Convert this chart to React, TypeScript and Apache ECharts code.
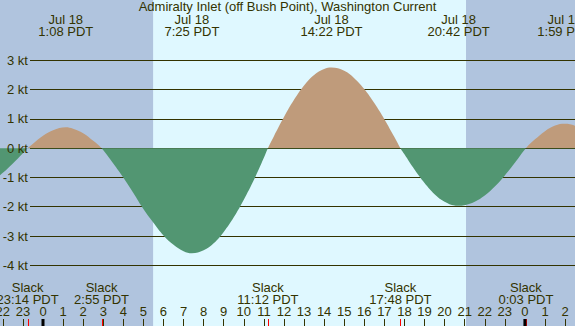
import React, { useEffect, useRef } from 'react';
import * as echarts from 'echarts';

// ---------- data ----------
const TITLE = 'Admiralty Inlet (off Bush Point), Washington Current';
const UNIT = 'kt';

// hours relative to midnight starting Jul 18 (negative = Jul 17, >24 = Jul 19)
const curveHours = [
  -3, -2.5, -2, -1.5, -1, -0.767, -0.5, 0, 0.5, 1.133, 1.5, 2, 2.5, 2.917,
  3.5, 4, 4.5, 5, 5.5, 6, 6.5, 7, 7.417, 8, 8.5, 9, 9.5, 10, 10.5, 11, 11.2,
  11.5, 12, 12.5, 13, 13.5, 14, 14.367, 15, 15.5, 16, 16.5, 17, 17.5, 17.8,
  18, 18.5, 19, 19.5, 20, 20.5, 20.7, 21, 21.5, 22, 22.5, 23, 23.5, 24.05,
  24.5, 25, 25.5, 25.983, 26.5, 27,
];
const curveKnots = [
  -1.29, -1.1, -0.84, -0.52, -0.17, 0, 0.15, 0.42, 0.61, 0.71, 0.66, 0.51, 0.25, 0,
  -0.52, -1.0, -1.53, -2.08, -2.55, -2.98, -3.3, -3.52, -3.59, -3.49, -3.25, -2.86, -2.36, -1.76, -1.09, -0.33, 0,
  0.41, 1.06, 1.65, 2.14, 2.5, 2.7, 2.75, 2.64, 2.39, 2.02, 1.54, 0.99, 0.38, 0,
  -0.21, -0.73, -1.19, -1.57, -1.83, -1.96, -1.97, -1.95, -1.83, -1.62, -1.31, -0.93, -0.5, 0,
  0.3, 0.58, 0.77, 0.83, 0.76, 0.58,
];

const peakDates = ['Jul 18', 'Jul 18', 'Jul 18', 'Jul 18', 'Jul 19'];
const peakTimes = ['1:08', '7:25', '14:22', '20:42', '1:59'];
const peakDayOffsets = [0, 0, 0, 0, 1];

const slackTimes = ['23:14', '2:55', '11:12', '17:48', '0:03'];
const slackDayOffsets = [-1, 0, 0, 0, 1];

const sunrise = '5:29';
const sunset = '21:04';
const midnights = [0, 24];

const hourMin = -3;
const hourMax = 27;
const ktMin = -4;
const ktMax = 3;

// ---------- style ----------
const W = 575;
const H = 326;
const FONT = '"Liberation Sans", Arial, sans-serif';
const FS = 13;
const INK = '#333300';
const NIGHT = '#b0c4de';
const DAY = '#dff8ff';
const FLOOD = '#bf9b7b';
const EBB = '#529672';

const toHours = (t: string, dayOffset = 0) => {
  const [hh, mm] = t.split(':').map(Number);
  return dayOffset * 24 + hh + mm / 60;
};

export default function App() {
  const ref = useRef<HTMLDivElement>(null);
  useEffect(() => {
    document.body.style.margin = '0';
    const chart = echarts.init(ref.current!, null, { renderer: 'svg', width: W, height: H });

    const peakHours = peakTimes.map((t, i) => toHours(t, peakDayOffsets[i]));
    const slackHours = slackTimes.map((t, i) => toHours(t, slackDayOffsets[i]));

    const gridLeft = -17.24;
    const gridRight = -10.16;
    const plotTop = 60.3;
    const plotBottom = 60.7;
    const tickLen = 7;

    const textEl = (x: number, y: number, text: string) => ({
      type: 'text',
      x,
      y,
      style: {
        text,
        fill: INK,
        fontSize: FS,
        fontFamily: FONT,
        align: 'center',
        verticalAlign: 'middle',
        lineHeight: 12,
      },
    });

    const kAxisBase = {
      type: 'value',
      gridIndex: 1,
      position: 'left',
      min: ktMin,
      max: ktMax,
      interval: 1,
      axisLine: { show: false, onZero: false },
      axisTick: { show: false },
    };

    chart.setOption({
      animation: false,
      backgroundColor: NIGHT,
      title: {
        text: TITLE,
        left: 'center',
        top: 0,
        padding: 0,
        textStyle: { fontSize: FS, lineHeight: 13, fontWeight: 'normal', color: INK, fontFamily: FONT },
      },
      grid: [
        { left: gridLeft, right: gridRight, top: plotTop, bottom: plotBottom, outerBoundsMode: 'none' },
        { left: 30, right: 0, top: plotTop, bottom: plotBottom, outerBoundsMode: 'none' },
      ],
      xAxis: [
        {
          type: 'value',
          gridIndex: 0,
          min: hourMin,
          max: hourMax,
          interval: 1,
          position: 'bottom',
          offset: plotBottom,
          z: 4,
          axisLine: { show: false, onZero: false },
          splitLine: { show: false },
          axisTick: { show: true, inside: true, length: tickLen, lineStyle: { color: INK, width: 1 } },
          axisLabel: {
            show: true,
            inside: true,
            margin: 8,
            color: INK,
            fontSize: FS,
            fontFamily: FONT,
            formatter: (v: number) => String(((v % 24) + 24) % 24),
          },
        },
        {
          type: 'value',
          gridIndex: 1,
          min: hourMin,
          max: hourMax,
          show: false,
          axisLine: { onZero: false },
          splitLine: { show: false },
        },
      ],
      yAxis: [
        { type: 'value', gridIndex: 0, min: ktMin, max: ktMax, show: false, splitLine: { show: false } },
        {
          ...kAxisBase,
          z: 2,
          axisLabel: { show: false },
          splitLine: { show: true, lineStyle: { color: INK, width: 1 } },
        },
        {
          ...kAxisBase,
          z: 7,
          splitLine: { show: false },
          axisLabel: {
            margin: 2,
            color: INK,
            fontSize: FS,
            fontFamily: FONT,
            formatter: (v: number) => `${v} ${UNIT}`,
          },
        },
      ],
      visualMap: {
        type: 'piecewise',
        show: false,
        seriesIndex: 1,
        dimension: 1,
        pieces: [
          { gte: -20, lt: 0, color: EBB },
          { gte: 0, lte: 20, color: FLOOD },
        ],
      },
      series: [
        {
          type: 'custom',
          name: 'daylight',
          xAxisIndex: 0,
          yAxisIndex: 0,
          z: 1,
          silent: true,
          clip: false,
          data: [[toHours(sunrise), toHours(sunset)]],
          encode: { x: [0, 1] },
          renderItem: (_p: any, api: any) => {
            const x1 = api.coord([api.value(0), 0])[0];
            const x2 = api.coord([api.value(1), 0])[0];
            return {
              type: 'rect',
              shape: { x: x1, y: 0, width: x2 - x1, height: api.getHeight() },
              style: { fill: DAY },
            };
          },
        },
        {
          type: 'line',
          name: 'current',
          xAxisIndex: 0,
          yAxisIndex: 0,
          z: 3,
          silent: true,
          smooth: 0.4,
          showSymbol: false,
          lineStyle: { width: 0, opacity: 0 },
          areaStyle: { opacity: 1 },
          data: curveHours.map((h, i) => [h, curveKnots[i]]),
        },
        {
          type: 'custom',
          name: 'slackTicks',
          xAxisIndex: 0,
          yAxisIndex: 0,
          z: 5,
          silent: true,
          clip: false,
          data: slackHours.map((h) => [h, 0]),
          renderItem: (_p: any, api: any) => {
            const x = Math.round(api.coord([api.value(0), 0])[0]) + 0.5;
            const h = api.getHeight();
            return {
              type: 'line',
              shape: { x1: x, y1: h - tickLen, x2: x, y2: h },
              style: { stroke: '#ff0000', lineWidth: 1 },
            };
          },
        },
        {
          type: 'custom',
          name: 'midnightTicks',
          xAxisIndex: 0,
          yAxisIndex: 0,
          z: 6,
          silent: true,
          clip: false,
          data: midnights.map((h) => [h, 0]),
          renderItem: (_p: any, api: any) => {
            const x = api.coord([api.value(0), 0])[0];
            const h = api.getHeight();
            return {
              type: 'line',
              shape: { x1: x, y1: h - tickLen, x2: x, y2: h },
              style: { stroke: '#000000', lineWidth: 3 },
            };
          },
        },
        {
          type: 'custom',
          name: 'peakLabels',
          xAxisIndex: 0,
          yAxisIndex: 0,
          z: 6,
          silent: true,
          clip: false,
          data: peakHours.map((h) => [h, 0]),
          renderItem: (p: any, api: any) => {
            const x = api.coord([api.value(0), 0])[0];
            const i = p.dataIndex;
            return textEl(x, 25.5, `${peakDates[i]}\n${peakTimes[i]} PDT`);
          },
        },
        {
          type: 'custom',
          name: 'slackLabels',
          xAxisIndex: 0,
          yAxisIndex: 0,
          z: 6,
          silent: true,
          clip: false,
          data: slackHours.map((h) => [h, 0]),
          renderItem: (p: any, api: any) => {
            const x = api.coord([api.value(0), 0])[0];
            const i = p.dataIndex;
            return textEl(x, api.getHeight() - 32.5, `Slack\n${slackTimes[i]} PDT`);
          },
        },
      ],
    });

    return () => chart.dispose();
  }, []);

  return (
    <div
      ref={ref}
      style={{ position: 'fixed', left: 0, top: 0, width: W, height: H }}
    />
  );
}
